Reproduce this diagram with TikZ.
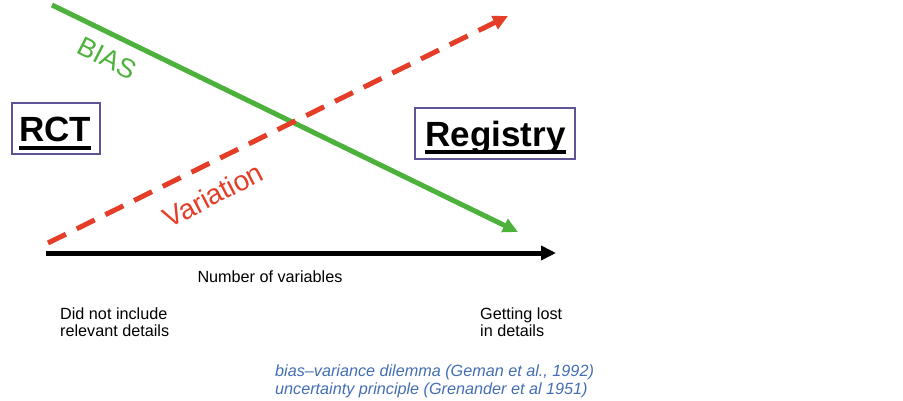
\documentclass[tikz,border=0pt]{standalone}
\usepackage{fontspec}
\setmainfont{Liberation Sans}
\usetikzlibrary{arrows.meta}
\definecolor{biasgreen}{RGB}{76,178,60}
\definecolor{varred}{RGB}{228,62,40}
\definecolor{refblue}{RGB}{68,110,180}
\definecolor{boxpurple}{RGB}{95,85,150}
\begin{document}
\begin{tikzpicture}[x=1pt,y=-1pt,
  curve/.style={line width=5pt,-{Triangle[length=15pt,width=14pt]}},
  titlebox/.style={draw=boxpurple,line width=1.2pt,inner sep=0pt},
  titletext/.style={font=\fontsize{35}{40}\selectfont\bfseries,inner sep=0pt,anchor=base},
  ul/.style={line width=4pt},
  plain/.style={font=\fontsize{16.2}{19}\selectfont,inner sep=0pt,anchor=base west},
  refs/.style={font=\fontsize{16.2}{20}\selectfont\itshape,text=refblue,inner sep=0pt,anchor=base west},
  curvelabel/.style={inner sep=0pt}]
\useasboundingbox (0,0) rectangle (903,401);

% boxes
\node[titlebox,minimum width=88pt,minimum height=51pt] (rctbox) at (56,128.5) {};
\node[titlebox,minimum width=160pt,minimum height=51pt] (regbox) at (495,133.5) {};
\node[titletext] (rcttxt) at (55,142) {RCT};
\node[titletext] (regtxt) at (495.5,147) {Registry};
\draw[ul] ([yshift=-6.5pt]rcttxt.base west) -- ([yshift=-6.5pt]rcttxt.base east);
\draw[ul] ([yshift=-5pt]regtxt.base west) -- ([yshift=-5pt]regtxt.base east);

% curves
\coordinate (gs) at (52,5);
\coordinate (ge) at (518,232);
\coordinate (rs) at (48,243);
\coordinate (re) at (508,16);
\coordinate (as) at (46,253);
\coordinate (ae) at (556,253);
\draw[curve,biasgreen] (gs) -- (ge);
\draw[curve,varred,dash pattern=on 20pt off 12pt] (rs) -- (re);
\draw[curve,black] (as) -- (ae);

% curve labels
\node[curvelabel,rotate=-27,text=biasgreen,font=\fontsize{27}{32}\selectfont] (bias) at (107,58) {BIAS};
\node[curvelabel,rotate=27.5,text=varred,font=\fontsize{28}{33}\selectfont] (variation) at (213,195) {Variation};

% texts
\node[plain,anchor=base] (numvar) at (270,282) {Number of variables};
\node[plain] (left1) at (60,319) {Did not include};
\node[plain] (left2) at (60,336) {relevant details};
\node[plain] (right1) at (480,319) {Getting lost};
\node[plain] (right2) at (480,336) {in details};
\node[refs] (ref1) at (275,376) {bias–variance dilemma (Geman et al., 1992)};
\node[refs] (ref2) at (275,394) {uncertainty principle (Grenander et al 1951)};
\end{tikzpicture}
\end{document}
